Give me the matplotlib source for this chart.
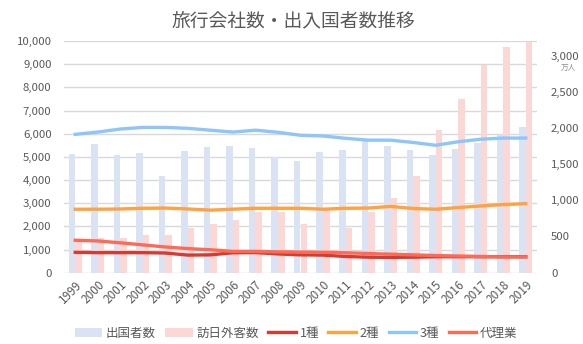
import numpy as np
import matplotlib
matplotlib.use("Agg")
import matplotlib.pyplot as plt
from matplotlib.transforms import blended_transform_factory
from matplotlib.ticker import FuncFormatter

plt.rcParams['font.family'] = ['Noto Sans CJK JP', 'DejaVu Sans']

# 年
years = [str(y) for y in range(1999, 2020)]

# 出国日本人数・訪日外客数（万人）
outbound = [1636, 1782, 1622, 1652, 1330, 1683, 1740, 1753, 1729, 1599, 1545,
            1664, 1699, 1849, 1747, 1690, 1621, 1712, 1789, 1895, 2008]
inbound = [444, 476, 477, 524, 521, 614, 673, 733, 835, 835, 679,
           861, 622, 836, 1036, 1341, 1974, 2404, 2869, 3119, 3188]

# 旅行業者数
type1 = [880, 865, 865, 865, 850, 760, 770, 860, 870, 810, 770,
         760, 700, 670, 660, 670, 690, 690, 690, 690, 690]
type2 = [2740, 2740, 2750, 2780, 2790, 2750, 2700, 2740, 2780, 2780, 2780,
         2740, 2780, 2790, 2860, 2770, 2740, 2810, 2880, 2940, 2980]
type3 = [5970, 6070, 6200, 6270, 6270, 6230, 6150, 6070, 6150, 6060, 5930,
         5900, 5800, 5720, 5720, 5620, 5500, 5650, 5760, 5810, 5810]
agent = [1400, 1370, 1290, 1200, 1110, 1040, 990, 920, 920, 900, 890,
         880, 860, 830, 800, 770, 740, 720, 700, 680, 680]

left_ticks = list(range(0, 10001, 1000))
right_ticks = list(range(0, 3001, 500))

txt = '#595959'
grid_c = '#D9D9D9'

fig = plt.figure(figsize=(5.83, 3.44), dpi=100)
ax = fig.add_axes([64 / 583, 1 - 272.7 / 344, 473 / 583, 231.7 / 344])
ax2 = ax.twinx()

# 棒グラフ（右軸）を背面、折れ線（左軸）を前面に
ax.set_zorder(2)
ax.patch.set_visible(False)
ax2.set_zorder(1)

x = np.arange(len(years))
w = 0.29
ax2.bar(x - w / 2, outbound, w, color='#DAE3F3', label='出国者数', zorder=2)
ax2.bar(x + w / 2, inbound, w, color='#FBD7D6', label='訪日外客数', zorder=2)

ax.plot(x, type1, color='#D93A30', lw=2.4, label='1種')
ax.plot(x, type2, color='#FFA23F', lw=2.4, label='2種')
ax.plot(x, type3, color='#8FC5F9', lw=2.4, label='3種')
ax.plot(x, agent, color='#FF6A55', lw=2.4, label='代理業')

ax.set_xlim(-0.5, len(years) - 0.5)
ax.set_ylim(0, 10000)
ax2.set_ylim(0, 3200)

# 目盛線（左軸基準）を棒の後ろに
tr = blended_transform_factory(ax2.transAxes, ax.transData)
for v in left_ticks:
    ax2.plot([0, 1], [v, v], color=grid_c, lw=1, transform=tr, zorder=0)

comma = FuncFormatter(lambda v, p: f'{int(v):,}')
ax.set_yticks(left_ticks)
ax.yaxis.set_major_formatter(comma)
ax2.set_yticks(right_ticks)
ax2.yaxis.set_major_formatter(comma)

ax.set_xticks(x)
ax.set_xticklabels(years, rotation=45, ha='right', rotation_mode='anchor')

for a in (ax, ax2):
    for s in a.spines.values():
        s.set_visible(False)
    a.tick_params(length=0, colors=txt, labelsize=8.2)
ax.tick_params(axis='y', pad=9)
ax2.tick_params(axis='y', pad=10)
ax.tick_params(axis='x', pad=4, labelsize=8.5)

fig.text(568 / 583, 1 - 68 / 344, '万人', color='#8C8C8C', fontsize=5.5,
         ha='center', va='center')

fig.suptitle('旅行会社数・出入国者数推移', x=293 / 583, y=1 - 21 / 344,
             va='center', color=txt, fontsize=13.5)

h1, l1 = ax2.get_legend_handles_labels()
h2, l2 = ax.get_legend_handles_labels()
fig.legend(h1 + h2, l1 + l2, loc='center', bbox_to_anchor=(296 / 583, 1 - 333 / 344),
           ncol=6, frameon=False, fontsize=9, labelcolor=txt,
           handlelength=2.2, handletextpad=0.3, columnspacing=0.75)

fig.savefig('out.png', dpi=100)
